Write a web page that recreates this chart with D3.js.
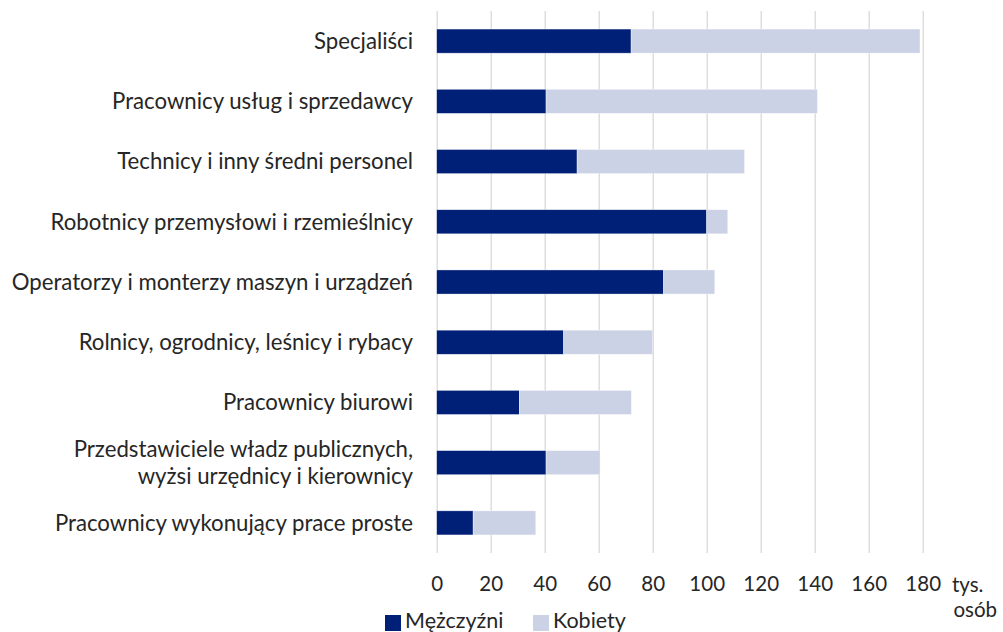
<!DOCTYPE html>
<html>
<head>
<meta charset="utf-8">
<script src="https://cdn.jsdelivr.net/npm/d3@7"></script>
<style>
  html, body { margin: 0; padding: 0; background: #fff; }
  svg { display: block; }
  text { font-family: Lato, "Open Sans", sans-serif; fill: #262626; }
</style>
</head>
<body>
<svg id="chart" width="1003" height="632"></svg>
<script>
const categories = [
  "Specjaliści",
  "Pracownicy usług i sprzedawcy",
  "Technicy i inny średni personel",
  "Robotnicy przemysłowi i rzemieślnicy",
  "Operatorzy i monterzy maszyn i urządzeń",
  "Rolnicy, ogrodnicy, leśnicy i rybacy",
  "Pracownicy biurowi",
  "Przedstawiciele władz publicznych,\nwyżsi urzędnicy i kierownicy",
  "Pracownicy wykonujący prace proste"
];
const men   = [72, 40.5, 52, 100, 84, 47, 30.6, 40.5, 13.5];
const women = [107, 100.5, 62, 7.8, 19, 33, 41.5, 20, 23.2];
const seriesNames = ["Mężczyźni", "Kobiety"];
const tickValues = [0, 20, 40, 60, 80, 100, 120, 140, 160, 180];
const unitLines = ["tys.", "osób"];

const colors = ["#001F77", "#CCD2E6"];
const tickFont = 20.5;
const labelFont = 22.2;
const legendFont = 21.5;

const svg = d3.select("#chart");
const x = d3.scaleLinear().domain([0, 180]).range([436.7, 922.7]);
const y = d3.scaleBand().domain(categories).range([11, 553]).paddingInner(0.6).paddingOuter(0.3);

// gridlines
const grid = svg.append("g").attr("transform", "translate(0,553)")
  .call(d3.axisBottom(x).tickValues(tickValues).tickSize(-542).tickFormat(""));
grid.select(".domain").remove();
grid.selectAll("line").attr("stroke", "#D9D9D9").attr("stroke-width", 1.3);

// tick labels
const axis = svg.append("g").attr("transform", "translate(0,591)")
  .call(d3.axisBottom(x).tickValues(tickValues).tickSize(0).tickPadding(0));
axis.select(".domain").remove();
axis.selectAll("text").attr("dy", 0).attr("y", 0)
  .style("font-size", tickFont + "px").attr("fill", "#262626");

// unit label
svg.append("text").attr("x", 952).attr("y", 591.5).style("font-size", tickFont + "px")
  .selectAll("tspan").data(unitLines).join("tspan")
  .attr("x", (d, i) => 952 + i * 1.5).attr("dy", (d, i) => i === 0 ? 0 : 25).text(d => d);

// stacked bars
const rows = categories.map((c, i) => ({ cat: c, men: men[i], women: women[i] }));
const stack = d3.stack().keys(["men", "women"])(rows);
svg.append("g").selectAll("g").data(stack).join("g")
  .attr("fill", (d, i) => colors[i])
  .selectAll("rect").data(d => d).join("rect")
  .attr("x", d => x(d[0]))
  .attr("width", d => x(d[1]) - x(d[0]))
  .attr("y", d => y(d.data.cat))
  .attr("height", y.bandwidth())
  .attr("stroke", "#ffffff").attr("stroke-width", 0.6).attr("stroke-opacity", 0.6);

// category labels
const labels = svg.append("g").selectAll("text").data(categories).join("text")
  .attr("text-anchor", "end").style("font-size", labelFont + "px")
  .attr("x", 413)
  .attr("y", d => y(d) + y.bandwidth() / 2);
labels.each(function(d) {
  const lines = d.split("\n");
  const lh = 27;
  const t = d3.select(this);
  lines.forEach((ln, i) => {
    t.append("tspan").attr("x", 413)
      .attr("y", y(d) + y.bandwidth() / 2 + (i - (lines.length - 1) / 2) * lh)
      .attr("dy", "0.35em").text(ln);
  });
});

// legend
const legendItems = [{ x: 385, name: seriesNames[0], c: colors[0] }, { x: 533, name: seriesNames[1], c: colors[1] }];
const lg = svg.append("g");
legendItems.forEach(it => {
  lg.append("rect").attr("x", it.x).attr("y", 615).attr("width", 16).attr("height", 16).attr("fill", it.c);
  lg.append("text").attr("x", it.x + 20).attr("y", 628).style("font-size", legendFont + "px").text(it.name);
});
</script>
</body>
</html>
